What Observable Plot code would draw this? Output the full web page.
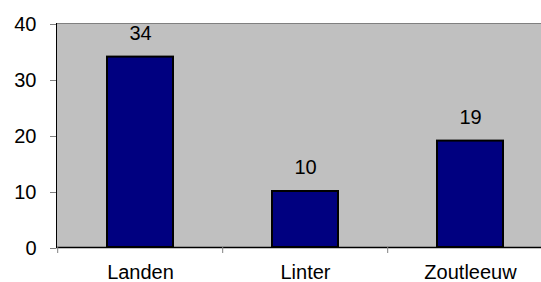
<!DOCTYPE html>
<html>
<head>
<meta charset="utf-8">
<script src="https://cdn.jsdelivr.net/npm/d3@7"></script>
<script src="https://cdn.jsdelivr.net/npm/@observablehq/plot@0.6"></script>
<style>
  html, body { margin: 0; padding: 0; background: white; overflow: hidden; }
</style>
</head>
<body>
<div id="chart"></div>
<script>
const categories = ["Landen", "Linter", "Zoutleeuw"];
const values = [34, 10, 19];
const yTicks = [0, 10, 20, 30, 40];

const data = categories.map((c, i) => ({category: c, value: values[i]}));

const chart = Plot.plot({
  width: 541,
  height: 282,
  marginLeft: 56,
  marginRight: -12,
  marginTop: 23,
  marginBottom: 35,
  style: {fontFamily: "Liberation Sans, Arial, sans-serif", fontSize: "20px", color: "black", background: "white"},
  x: {domain: categories, paddingInner: 0.6, paddingOuter: 0.3, label: null},
  y: {domain: [0, 40], label: null},
  marks: [
    Plot.frame({fill: "#c0c0c0", stroke: "#808080"}),
    Plot.frame({anchor: "left", stroke: "black"}),
    Plot.barY(data, {x: "category", y: "value", fill: "#000080", stroke: "black", strokeWidth: 2}),
    Plot.ruleY([0], {stroke: "black", strokeWidth: 1.5}),
    Plot.axisY({ticks: yTicks, tickSize: 6, tickPadding: 14, stroke: "#808080", fill: "black", dy: 1, label: null}),
    Plot.axisX({tickSize: 6, tickFormat: () => "", dx: -82.8, stroke: "#808080", label: null}),
    Plot.axisX({tickSize: 0, tickPadding: 17, fill: "black", label: null}),
    Plot.text(data, {x: "category", y: "value", text: d => String(d.value), dy: -24, fill: "black"})
  ]
});
document.getElementById("chart").appendChild(chart);
</script>
</body>
</html>
